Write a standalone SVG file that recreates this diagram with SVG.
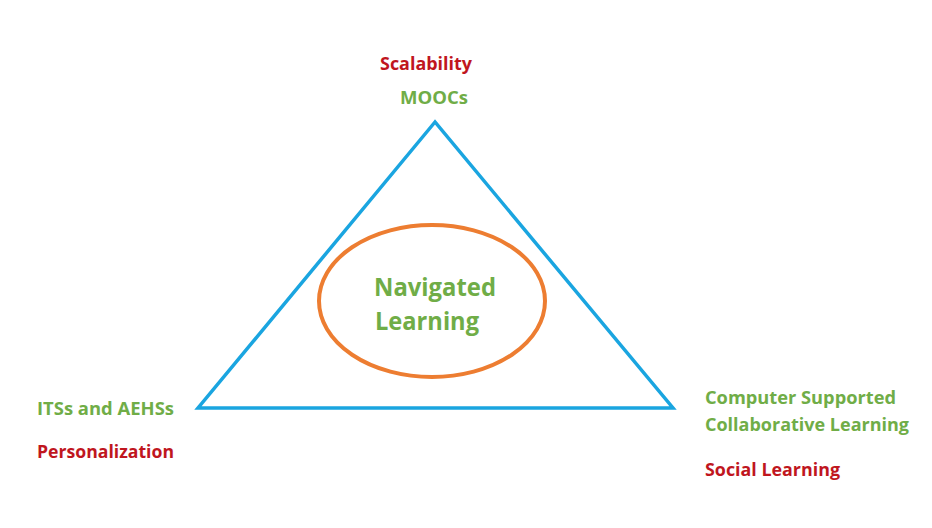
<svg xmlns="http://www.w3.org/2000/svg" width="932" height="528" viewBox="0 0 932 528">
<style>
text{font-family:"Open Sans","Liberation Sans",sans-serif;font-weight:bold;}
.r{fill:#c0161e;font-size:17px;}
.g{fill:#70ad47;font-size:17px;}
.big{fill:#70ad47;font-size:25px;}
</style>
<rect width="932" height="528" fill="#ffffff"/>
<g id="triangle">
<polygon points="435,122 198,408 673,408" fill="none" stroke="#1aa5e0" stroke-width="3.5" stroke-linejoin="miter"/>
</g>
<g id="center">
<ellipse cx="432" cy="301" rx="113" ry="76" fill="none" stroke="#ed7d31" stroke-width="4"/>
<text class="big" x="374" y="296" textLength="122" lengthAdjust="spacingAndGlyphs">Navigated</text>
<text class="big" x="375" y="330" textLength="104" lengthAdjust="spacingAndGlyphs">Learning</text>
</g>
<g id="top">
<text class="r" x="380" y="70" textLength="92" lengthAdjust="spacingAndGlyphs">Scalability</text>
<text class="g" x="400" y="104" textLength="68" lengthAdjust="spacingAndGlyphs">MOOCs</text>
</g>
<g id="left">
<text class="g" x="37" y="415" textLength="137" lengthAdjust="spacingAndGlyphs">ITSs and AEHSs</text>
<text class="r" x="37" y="458" textLength="137" lengthAdjust="spacingAndGlyphs">Personalization</text>
</g>
<g id="right">
<text class="g" x="705" y="404" textLength="191" lengthAdjust="spacingAndGlyphs">Computer Supported</text>
<text class="g" x="705" y="431" textLength="204" lengthAdjust="spacingAndGlyphs">Collaborative Learning</text>
<text class="r" x="705" y="476" textLength="135" lengthAdjust="spacingAndGlyphs">Social Learning</text>
</g>
</svg>
